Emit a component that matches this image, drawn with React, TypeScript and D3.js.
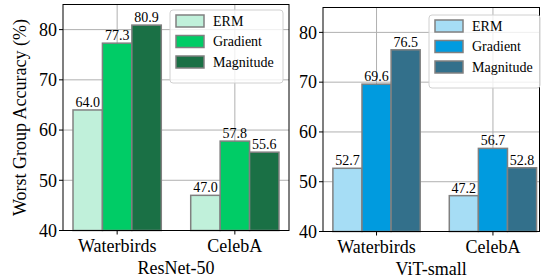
import { scaleLinear } from "d3";

const datasets = ["Waterbirds", "CelebA"];
const methods = ["ERM", "Gradient", "Magnitude"];
const resnetValues = [
  [64.0, 47.0],
  [77.3, 57.8],
  [80.9, 55.6],
];
const vitValues = [
  [52.7, 47.2],
  [69.6, 56.7],
  [76.5, 52.8],
];
const yTicks = [40, 50, 60, 70, 80];
const resnetColors = ["#c0f0da", "#00cc66", "#1a7045"];
const vitColors = ["#a6ddf5", "#009bdf", "#33708b"];

const FONT = "Liberation Serif";

type PanelProps = {
  values: number[][];
  colors: string[];
  title: string;
  left: number;
  right: number;
  top: number;
  bottom: number;
  xMax: number;
  legend: { x: number; y: number; w: number; h: number };
  yLabel?: boolean;
};

function Panel({ values, colors, title, left, right, top, bottom, xMax, legend, yLabel }: PanelProps) {
  const x = scaleLinear().domain([-0.46, xMax]).range([left, right]);
  const y = scaleLinear().domain([40, 85]).range([bottom, top]);
  const bw = 0.25;

  return (
    <g>
      {/* grid */}
      {yTicks.map((t) => (
        <line key={"gy" + t} x1={left} x2={right} y1={y(t)} y2={y(t)} stroke="#b0b0b0" strokeWidth={1} />
      ))}
      {datasets.map((d, i) => (
        <line key={"gx" + d} x1={x(i)} x2={x(i)} y1={top} y2={bottom} stroke="#b0b0b0" strokeWidth={1} />
      ))}

      {/* bars */}
      {methods.map((m, mi) =>
        datasets.map((d, di) => {
          const v = values[mi][di];
          const x0 = x(di + (mi - 1) * bw - bw / 2);
          const x1 = x(di + (mi - 1) * bw + bw / 2);
          return (
            <g key={m + d}>
              <rect
                x={x0}
                y={y(v)}
                width={x1 - x0}
                height={bottom - y(v)}
                fill={colors[mi]}
                stroke="#808080"
                strokeWidth={1.5}
              />
              <text x={(x0 + x1) / 2} y={y(v) - 3} textAnchor="middle" fontSize={14}>
                {v.toFixed(1)}
              </text>
            </g>
          );
        })
      )}

      {/* spines */}
      <rect x={left} y={top} width={right - left} height={bottom - top} fill="none" stroke="#000" strokeWidth={1} />

      {/* y ticks */}
      {yTicks.map((t) => (
        <g key={"yt" + t}>
          <line x1={left - 4} x2={left} y1={y(t)} y2={y(t)} stroke="#000" />
          <text x={left - 6} y={y(t)} dy="0.35em" textAnchor="end" fontSize={18}>
            {t}
          </text>
        </g>
      ))}

      {/* x ticks */}
      {datasets.map((d, i) => (
        <g key={"xt" + d}>
          <line x1={x(i)} x2={x(i)} y1={bottom} y2={bottom + 4} stroke="#000" />
          <text x={x(i)} y={bottom + 21} textAnchor="middle" fontSize={18}>
            {d}
          </text>
        </g>
      ))}
      <text x={(left + right) / 2} y={bottom + 43} textAnchor="middle" fontSize={18}>
        {title}
      </text>

      {yLabel && (
        <text
          transform={`translate(26,${(top + bottom) / 2}) rotate(-90)`}
          textAnchor="middle"
          fontSize={18}
        >
          Worst Group Accuracy (%)
        </text>
      )}

      {/* legend */}
      <rect
        x={legend.x}
        y={legend.y}
        width={legend.w}
        height={legend.h}
        rx={3}
        fill="#fff"
        fillOpacity={0.8}
        stroke="#d0d0d0"
      />
      {methods.map((m, mi) => (
        <g key={"lg" + m}>
          <rect
            x={legend.x + 6}
            y={legend.y + 5 + mi * 20.5}
            width={28}
            height={12}
            fill={colors[mi]}
            stroke="#808080"
            strokeWidth={1.5}
          />
          <text x={legend.x + 43} y={legend.y + 11 + mi * 20.5} dy="0.35em" fontSize={14}>
            {m}
          </text>
        </g>
      ))}
    </g>
  );
}

export default function App() {
  return (
    <svg
      width={547}
      height={280}
      style={{ position: "absolute", left: 0, top: 0, background: "#fff", fontFamily: FONT }}
    >
      <Panel
        values={resnetValues}
        colors={resnetColors}
        title="ResNet-50"
        left={63}
        right={289}
        top={4.5}
        bottom={230.5}
        xMax={1.46}
        legend={{ x: 170, y: 10, w: 113, h: 73 }}
        yLabel
      />
      <Panel
        values={vitValues}
        colors={vitColors}
        title="ViT-small"
        left={323}
        right={539.5}
        top={7.5}
        bottom={231.5}
        xMax={1.4}
        legend={{ x: 429, y: 15, w: 111, h: 73 }}
      />
    </svg>
  );
}
